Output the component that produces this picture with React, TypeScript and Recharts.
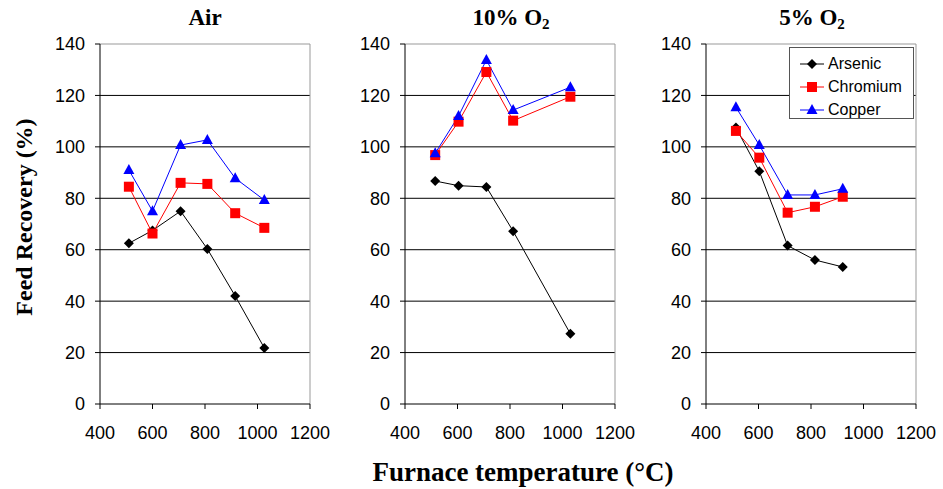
import React from 'react'
import { LineChart, Line, XAxis, YAxis, CartesianGrid, ReferenceLine, Legend } from 'recharts'

// panel titles
const panelTitles = ['Air', '10% O', '5% O']
const panelSubs = ['', '2', '2']

// Air
const airTemp = [510, 600, 707, 809, 915, 1026]
const airArsenic = [62.5, 67.5, 75, 60.3, 42, 21.8]
const airChromium = [84.5, 66.3, 86, 85.6, 74.2, 68.5]
const airCopper = [91, 75, 100.7, 102.7, 87.8, 79.3]

// 10% O2
const o10Temp = [515, 604, 710, 812, 1030]
const o10Arsenic = [86.7, 84.9, 84.4, 67.2, 27.3]
const o10Chromium = [96.8, 109.8, 129.1, 110.2, 119.5]
const o10Copper = [97.5, 112, 133.8, 114.3, 123.2]

// 5% O2
const o5Temp = [514, 603, 711, 815, 921]
const o5Arsenic = [107.5, 90.5, 61.6, 56, 53.3]
const o5Chromium = [106.2, 95.8, 74.4, 76.7, 80.6]
const o5Copper = [115.4, 100.7, 81.3, 81.3, 83.7]

const xTicks = [400, 600, 800, 1000, 1200]
const yTicks = [0, 20, 40, 60, 80, 100, 120, 140]
const gridValues = [20, 40, 60, 80, 100, 120]

const seriesNames = ['Arsenic', 'Chromium', 'Copper']
const seriesColors = ['#000000', '#ff0000', '#0000ff']

const makeRows = (temp: number[], as: number[], cr: number[], cu: number[]) =>
    temp.map((t, i) => ({ temp: t, Arsenic: as[i], Chromium: cr[i], Copper: cu[i] }))

const panels = [
    makeRows(airTemp, airArsenic, airChromium, airCopper),
    makeRows(o10Temp, o10Arsenic, o10Chromium, o10Copper),
    makeRows(o5Temp, o5Arsenic, o5Chromium, o5Copper),
]

const panelLeft = [40, 345, 646]

const Marker = ({ kind, cx, cy }: { kind: string; cx: number; cy: number }) => {
    if (kind === 'Arsenic') {
        const r = 5
        return <polygon points={`${cx},${cy - r} ${cx + r},${cy} ${cx},${cy + r} ${cx - r},${cy}`} fill="#000" />
    }
    if (kind === 'Chromium') {
        return <rect x={cx - 5} y={cy - 5} width={10} height={10} fill="#ff0000" />
    }
    return <polygon points={`${cx},${cy - 6} ${cx + 5.5},${cy + 4} ${cx - 5.5},${cy + 4}`} fill="#0000ff" />
}

const LegendBox = () => (
    <div style={{ border: '1px solid #555', background: '#fff', width: 125, height: 72, boxSizing: 'border-box', padding: '4px 0 0 0' }}>
        {seriesNames.map((name, i) => (
            <div key={name} style={{ display: 'flex', alignItems: 'center', height: 23 }}>
                <svg width={38} height={16} style={{ marginLeft: 9 }}>
                    <line x1={1} y1={8} x2={25} y2={8} stroke={seriesColors[i]} strokeWidth={1} />
                    <Marker kind={name} cx={13} cy={8} />
                </svg>
                <span style={{ fontFamily: 'Liberation Sans, Arial, sans-serif', fontSize: 16, color: '#000', marginLeft: -9 }}>{name}</span>
            </div>
        ))}
    </div>
)

const tickStyle = { fontFamily: 'Liberation Sans, Arial, sans-serif', fontSize: 18, fill: '#000' }

const Panel = ({ idx }: { idx: number }) => (
    <div style={{ position: 'absolute', left: panelLeft[idx], top: 0 }}>
        <LineChart width={295} height={449} data={panels[idx]} margin={{ top: 44, right: 25, left: 0, bottom: 0 }}>
            <CartesianGrid vertical={false} stroke="#000" horizontalValues={gridValues} />
            <ReferenceLine y={140} stroke="#999" />
            <ReferenceLine x={1200} stroke="#999" />
            <XAxis
                dataKey="temp"
                type="number"
                domain={[400, 1200]}
                ticks={xTicks}
                tick={tickStyle}
                tickSize={5}
                tickMargin={17}
                height={45}
                stroke="#000"
                interval={0}
            />
            <YAxis
                type="number"
                domain={[0, 140]}
                ticks={yTicks}
                tick={tickStyle}
                tickSize={5}
                tickMargin={10}
                width={60}
                stroke="#000"
                interval={0}
            />
            {idx === 2 && (
                <Legend
                    layout="vertical"
                    align="center"
                    verticalAlign="middle"
                    content={() => <LegendBox />}
                    wrapperStyle={{ position: 'absolute', left: 143, top: 47, width: 125 }}
                />
            )}
            {seriesNames.map((name, i) => (
                <Line
                    key={name}
                    dataKey={name}
                    stroke={seriesColors[i]}
                    strokeWidth={1}
                    isAnimationActive={false}
                    dot={(p: any) => <Marker key={`${name}-${p.index}`} kind={name} cx={p.cx} cy={p.cy} />}
                    activeDot={false}
                />
            ))}
        </LineChart>
    </div>
)

const serif = 'Liberation Serif, Times New Roman, serif'

export default function App() {
    const centers = [205, 511, 812]
    return (
        <div style={{ position: 'absolute', left: 0, top: 0, width: 943, height: 489, background: '#fff', overflow: 'hidden' }}>
            {[0, 1, 2].map(i => <Panel key={i} idx={i} />)}
            {panelTitles.map((t, i) => (
                <div
                    key={t}
                    style={{
                        position: 'absolute', left: centers[i] - 100, width: 200, top: 5, textAlign: 'center',
                        fontFamily: serif, fontWeight: 'bold', fontSize: 23, color: '#000', whiteSpace: 'pre',
                    }}
                >
                    {t}
                    {panelSubs[i] && <sub style={{ fontSize: 15, verticalAlign: -4 }}>{panelSubs[i]}</sub>}
                </div>
            ))}
            <div
                style={{
                    position: 'absolute', left: 24 - 150, top: 217 - 15, width: 300, height: 30, lineHeight: '30px',
                    transform: 'rotate(-90deg)', textAlign: 'center', fontFamily: serif, fontWeight: 'bold', fontSize: 24, color: '#000',
                }}
            >
                Feed Recovery (%)
            </div>
            <div
                style={{
                    position: 'absolute', left: 523 - 200, top: 457, width: 400, textAlign: 'center',
                    fontFamily: serif, fontWeight: 'bold', fontSize: 27, color: '#000', lineHeight: '30px',
                }}
            >
                Furnace temperature (°C)
            </div>
        </div>
    )
}
